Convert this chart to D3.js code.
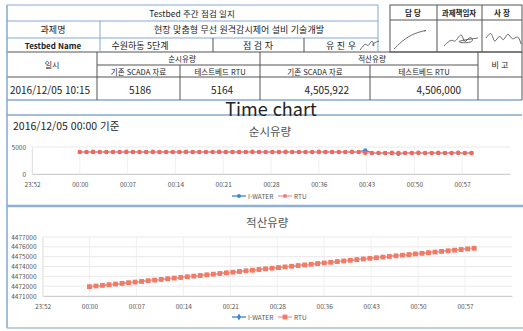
<!DOCTYPE html>
<html lang="ko">
<head>
<meta charset="UTF-8">
<title>Testbed 주간 점검 일지</title>
<script src="https://cdn.jsdelivr.net/npm/d3@7"></script>
<style>
  body { margin: 0; background: #fff; }
  svg { display: block; font-family: "Noto Sans CJK KR", "Noto Sans", sans-serif; }
</style>
</head>
<body>
<svg id="page" width="523" height="331"></svg>
<script>
// ---- report header values ----
const reportTitle = "Testbed 주간 점검 일지";
const projectName = "현장 맞춤형 무선 원격감시제어 설비 기술개발";
const testbedName = "수원하동 5단계";
const inspector = "유 진 우";
const reportTime = "2016/12/05 10:15";
const sourceLabels = ["기존 SCADA 자료", "테스트베드 RTU"];
const instantFlow = [5186, 5164];
const totalFlow = [4505922, 4506000];
const signHeaders = ["담 당", "과제책임자", "사 장"];

// ---- chart data (minutes after 2016/12/05 00:00) ----
const minutes = d3.range(0, 60);
const xTickLabels = ["23:52", "00:00", "00:07", "00:14", "00:21", "00:28", "00:36", "00:43", "00:50", "00:57"];
const seriesNames = ["I-WATER", "RTU"];

const iwaterFlow = [4075,4070,4085,4080,4085,4075,4070,4090,4080,4075,
  4085,4090,4070,4080,4080,4075,4085,4080,4090,4070,
  4080,4085,4075,4085,4075,4070,4090,4085,4085,4075,
  4080,4085,4070,4085,4080,4080,4090,4075,4085,4070,
  4080,4085,4080,4400,3890,3900,3880,3910,3700,3880,
  3900,3915,3890,3880,3905,3900,3895,3920,3880,3905];
const rtuFlow = [4080,4070,4090,4075,4085,4080,4070,4090,4085,4075,
  4080,4090,4070,4085,4080,4075,4090,4080,4085,4070,
  4080,4090,4075,4085,4080,4070,4090,4080,4085,4075,
  4080,4090,4070,4085,4080,4075,4090,4080,4085,4070,
  4080,4090,4075,3920,3880,3900,3870,3910,3890,3880,
  3900,3920,3890,3880,3910,3900,3890,3920,3880,3900];
const flowTicks = [0, 5000];

const iwaterTotal = [4471940,4472008,4472075,4472143,4472210,4472277,4472345,4472412,4472480,4472547,
  4472614,4472682,4472749,4472816,4472884,4472951,4473018,4473086,4473153,4473220,
  4473288,4473355,4473422,4473490,4473557,4473624,4473692,4473759,4473826,4473894,
  4473961,4474028,4474096,4474163,4474230,4474298,4474365,4474432,4474500,4474567,
  4474634,4474702,4474769,4474838,4474902,4474967,4475031,4475096,4475158,4475223,
  4475287,4475352,4475416,4475481,4475545,4475610,4475674,4475739,4475803,4475868];
const rtuTotal = [4471950,4472017,4472084,4472151,4472218,4472285,4472352,4472419,4472486,4472553,
  4472620,4472687,4472754,4472821,4472888,4472955,4473022,4473089,4473156,4473223,
  4473290,4473357,4473424,4473491,4473558,4473625,4473692,4473759,4473826,4473893,
  4473960,4474027,4474094,4474161,4474228,4474295,4474362,4474429,4474496,4474563,
  4474630,4474697,4474764,4474830,4474894,4474958,4475022,4475086,4475150,4475214,
  4475278,4475342,4475406,4475470,4475534,4475598,4475662,4475726,4475790,4475854];
const totalTicks = [4471000, 4472000, 4473000, 4474000, 4475000, 4476000, 4477000];

const svg = d3.select("#page");
const blue = "#84a9d2", dark = "#555";

function hline(y, x1, x2, color, w) {
  svg.append("line").attr("x1", x1).attr("x2", x2).attr("y1", y).attr("y2", y)
    .attr("stroke", color).attr("stroke-width", w || 1);
}
function vline(x, y1, y2, color, w) {
  svg.append("line").attr("x1", x).attr("x2", x).attr("y1", y1).attr("y2", y2)
    .attr("stroke", color).attr("stroke-width", w || 1);
}
function label(x, y, str, size, anchor, fill, weight) {
  return svg.append("text").attr("x", x).attr("y", y).text(str)
    .attr("font-size", size).attr("text-anchor", anchor || "middle")
    .attr("dominant-baseline", "central")
    .attr("fill", fill || "#222").attr("font-weight", weight || 400);
}

// ---- header table ----
hline(5, 7, 378, blue);
hline(21, 7, 378, blue);
hline(38, 7, 378, blue);
hline(52, 7, 522, dark);
hline(65, 97, 478, dark);
hline(77, 7, 522, dark);
hline(100, 7, 522, blue, 1.5);
hline(115, 7, 522, blue, 1.5);
vline(7, 5, 328, blue, 1.5);
vline(100, 21, 52, blue);
vline(213, 38, 52, dark);
vline(304, 38, 52, dark);
vline(378, 5, 52, blue);
vline(97, 52, 100, dark);
vline(180, 65, 100, dark);
vline(260, 52, 100, dark);
vline(370, 65, 100, dark);
vline(478, 52, 100, dark);
vline(522, 52, 100, dark);

label(192, 13, reportTitle, 8.5);
label(53, 29.5, "과제명", 9);
label(239, 29.5, projectName, 9);
label(53, 45, "Testbed Name", 8, "middle", "#222", 600);
label(140, 45, testbedName, 9);
label(258, 45, "점 검 자", 9);
label(341, 45, inspector, 9);

label(52, 64, "일시", 8);
label(182, 58.5, "순시유량", 7.5);
label(372, 58.5, "적산유량", 7.5);
label(138.5, 71, sourceLabels[0], 7.5);
label(220, 71, sourceLabels[1], 7.5);
label(315, 71, sourceLabels[0], 7.5);
label(424, 71, sourceLabels[1], 7.5);
label(500, 64.5, "비 고", 8);
label(50, 89, reportTime, 10);
label(140, 89, instantFlow[0], 10);
label(222, 89, instantFlow[1], 10);
const comma = d3.format(",");
label(349, 89, comma(totalFlow[0]), 10, "end");
label(461, 89, comma(totalFlow[1]), 10, "end");

// signature box
svg.append("rect").attr("x", 390).attr("y", 5).attr("width", 132).attr("height", 47)
  .attr("fill", "none").attr("stroke", dark);
hline(20, 390, 522, dark);
vline(437, 5, 52, dark);
vline(482, 5, 52, dark);
label(413, 12.5, signHeaders[0], 7.5, "middle", "#222", 600);
label(459, 12.5, signHeaders[1], 7.5, "middle", "#222", 600);
label(502, 12.5, signHeaders[2], 7.5, "middle", "#222", 600);
const scribble = d3.line().curve(d3.curveBasis);
const sigs = [
  [[394, 49], [405, 38], [418, 32], [428, 30], [424, 31]],
  [[444, 46], [452, 38], [455, 44], [462, 30], [464, 46], [470, 34], [476, 44], [450, 42], [478, 38]],
  [[486, 38], [492, 30], [494, 46], [500, 32], [503, 44], [508, 30], [512, 42], [518, 34], [521, 44]],
  [[360, 50], [366, 42], [368, 48], [372, 38], [375, 48], [371, 44], [379, 41]]
];
sigs.forEach(p => svg.append("path").attr("d", scribble(p)).attr("fill", "none")
  .attr("stroke", "#444").attr("stroke-width", 0.8));

label(271, 107.5, "Time chart", 18, "middle", "#222");

// chart boxes
hline(206, 7, 523, "#8fb0d6", 2.5);
hline(328, 7, 523, "#a9c1dc", 1.5);

function drawChart(cfg) {
  const x = d3.scaleLinear().domain([-7.2, 64.8]).range([cfg.left, cfg.right]);
  const y = d3.scaleLinear().domain(cfg.yDomain).range([cfg.bottom, cfg.top]);
  const tickPos = xTickLabels.map((d, i) => -7.2 + i * 7.2);
  const g = svg.append("g");

  // grid
  g.append("g").selectAll("line").data(cfg.yTicks).join("line")
    .attr("x1", cfg.left).attr("x2", cfg.right)
    .attr("y1", d => y(d)).attr("y2", d => y(d))
    .attr("stroke", "#e3e3e3").attr("stroke-width", 0.8);
  g.append("g").selectAll("line").data(tickPos).join("line")
    .attr("x1", d => x(d)).attr("x2", d => x(d))
    .attr("y1", cfg.top).attr("y2", cfg.bottom)
    .attr("stroke", "#ececec").attr("stroke-width", 0.8);

  // axes
  const ax = g.append("g").attr("transform", `translate(0,${cfg.bottom})`)
    .call(d3.axisBottom(x).tickValues(tickPos).tickFormat((d, i) => xTickLabels[i])
      .tickSize(0).tickPadding(8));
  ax.select(".domain").attr("stroke", "#cfcfcf");
  ax.selectAll("text").attr("font-size", 6.5).attr("fill", "#555")
    .attr("font-family", "'Noto Sans CJK KR', sans-serif");
  const ay = g.append("g").attr("transform", `translate(${cfg.left},0)`)
    .call(d3.axisLeft(y).tickValues(cfg.yTicks).tickSize(0).tickPadding(cfg.yPad).tickFormat(d3.format("d")));
  ay.select(".domain").attr("stroke", "#e3e3e3");
  ay.selectAll("text").attr("font-size", 6.5).attr("fill", "#555")
    .attr("font-family", "'Noto Sans CJK KR', sans-serif");

  const ln = d3.line().x((d, i) => x(minutes[i])).y(d => y(d));
  const colors = ["#4a8fd6", "#f5a3ac"];
  const markFill = ["#3f87d2", cfg.rtuMark];
  cfg.series.forEach((s, k) => {
    g.append("path").attr("d", ln(s)).attr("fill", "none")
      .attr("stroke", colors[k]).attr("stroke-width", 1.4);
    const m = g.append("g").selectAll("g").data(s).join("g")
      .attr("transform", (d, i) => `translate(${x(minutes[i])},${y(d)})`);
    if (k === 1 && cfg.square) {
      m.append("rect").attr("x", -2.4).attr("y", -2.4).attr("width", 4.8).attr("height", 4.8)
        .attr("fill", markFill[k]);
    } else {
      m.append("circle").attr("r", k === 1 ? 2.3 : 2).attr("fill", markFill[k]);
    }
  });

  // title
  label((cfg.left + cfg.right) / 2 + (cfg.titleShift || 0), cfg.titleY, cfg.title, 11.5, "middle", "#555");

  // legend
  const lg = g.append("g").attr("transform", `translate(0,${cfg.legendY})`);
  seriesNames.forEach((n, k) => {
    const x0 = k === 0 ? 232 : 278;
    lg.append("line").attr("x1", x0).attr("x2", x0 + 14).attr("stroke", colors[k]).attr("stroke-width", 1.4);
    if (k === 1 && cfg.square) {
      lg.append("rect").attr("x", x0 + 4.6).attr("y", -2.4).attr("width", 4.8).attr("height", 4.8).attr("fill", markFill[k]);
    } else if (k === 0 && cfg.square) {
      lg.append("path").attr("d", d3.symbol(d3.symbolDiamond, 14)()).attr("transform", `translate(${x0 + 7},0)`).attr("fill", markFill[k]);
    } else {
      lg.append("circle").attr("cx", x0 + 7).attr("r", 2).attr("fill", k === 1 ? "#f27b82" : markFill[k]);
    }
    lg.append("text").attr("x", x0 + 16).attr("y", 0).attr("dominant-baseline", "central")
      .attr("font-size", 6.5).attr("fill", "#555").text(n);
  });
}

label(13, 125.5, "2016/12/05 00:00 기준", 10.5, "start", "#222");

drawChart({
  left: 32, right: 510, top: 147, bottom: 174,
  yDomain: [0, 5000], yTicks: flowTicks, yPad: 6,
  series: [iwaterFlow, rtuFlow], rtuMark: "#f2685a", square: false,
  title: "순시유량", titleY: 131, titleShift: -1, legendY: 196
});

drawChart({
  left: 42.5, right: 512, top: 237, bottom: 296,
  yDomain: [4471000, 4477000], yTicks: totalTicks, yPad: 6,
  series: [iwaterTotal, rtuTotal], rtuMark: "#f47a62", square: true,
  title: "적산유량", titleY: 222, titleShift: -10, legendY: 317
});
</script>
</body>
</html>
